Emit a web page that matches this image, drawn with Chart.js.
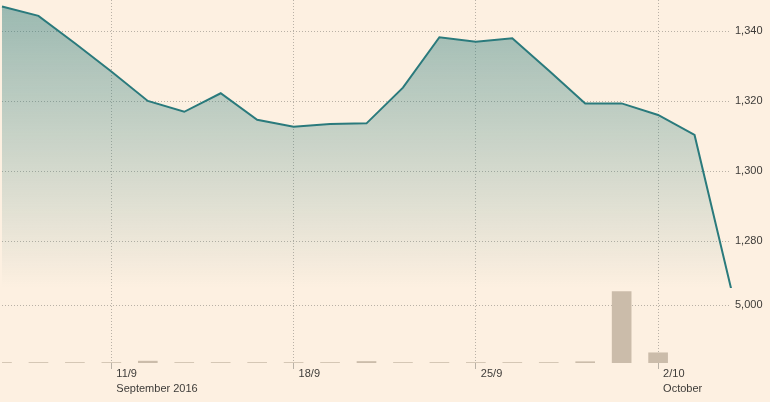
<!DOCTYPE html>
<html>
<head>
<meta charset="utf-8">
<script src="https://cdn.jsdelivr.net/npm/chart.js@4/dist/chart.umd.min.js"></script>
<style>
  html, body { margin: 0; padding: 0; background: #fdf0e1; }
  #wrap { width: 770px; height: 402px; position: relative; }
</style>
</head>
<body>
<div id="wrap"><canvas id="chart" width="770" height="402"></canvas></div>
<script>
  // trading days (Sun-Thu)
  var dates = [
    "6/9", "7/9", "8/9",
    "11/9", "12/9", "13/9", "14/9", "15/9",
    "18/9", "19/9", "20/9", "21/9", "22/9",
    "25/9", "26/9", "27/9", "28/9", "29/9",
    "2/10", "3/10", "4/10"
  ];
  var prices = [
    1347.1, 1344.4, 1336.6,
    1328.5, 1320.1, 1317.0, 1322.3, 1314.7,
    1312.7, 1313.5, 1313.7, 1323.9, 1338.3,
    1337.0, 1338.0, 1328.8, 1319.4, 1319.4,
    1316.1, 1310.4, 1266.6
  ];
  var volumes = [
    40, 40, 40,
    40, 160, 40, 40, 40,
    40, 40, 130, 40, 40,
    40, 40, 40, 110, 6150,
    880, null, null
  ];
  var tickDates = ["11/9", "18/9", "25/9", "2/10"];
  var tickMonths = ["September 2016", "", "", "October"];
  var priceTicks = [1280, 1300, 1320, 1340];
  var volumeTicks = [5000];

  var gridColor = "#b9b1a6";
  var textColor = "#3d3b38";
  var font = { family: "'Liberation Sans', Arial, sans-serif", size: 11, lineHeight: 1.32 };

  function fmt(v) {
    return Number(v).toLocaleString("en-US");
  }

  function noPadding(axis) {
    axis.paddingTop = 0;
    axis.paddingBottom = 0;
    axis.paddingLeft = 0;
    axis.paddingRight = 0;
  }

  function areaGradient(context) {
    var chart = context.chart;
    var y = chart.scales.y;
    if (!chart.chartArea || !y) return "rgba(43,123,123,0.3)";
    var g = chart.ctx.createLinearGradient(0, y.top, 0, y.bottom);
    g.addColorStop(0, "rgba(43,123,123,0.48)");
    g.addColorStop(1, "rgba(43,123,123,0)");
    return g;
  }

  new Chart(document.getElementById("chart"), {
    data: {
      labels: dates,
      datasets: [
        {
          type: "line",
          data: prices,
          yAxisID: "y",
          borderColor: "#2a7a7c",
          borderWidth: 2,
          backgroundColor: areaGradient,
          fill: "start",
          tension: 0,
          pointRadius: 0,
          order: 1,
        },
        {
          type: "bar",
          data: volumes,
          yAxisID: "vol",
          backgroundColor: "#cbbcaa",
          barThickness: 19,
          borderWidth: 0,
          order: 2,
        },
      ],
    },
    options: {
      responsive: false,
      animation: false,
      layout: { padding: { left: 2, top: 0, right: 0, bottom: 0 } },
      plugins: {
        legend: { display: false },
        tooltip: { enabled: false },
      },
      scales: {
        x: {
          type: "category",
          offset: false,
          border: { display: false, dash: [1, 2] },
          grid: {
            offset: false,
            color: gridColor,
            drawTicks: true,
            tickLength: 6,
            tickColor: gridColor,
            tickBorderDash: [],
          },
          ticks: {
            autoSkip: false,
            maxRotation: 0,
            align: "start",
            labelOffset: 5,
            padding: -2,
            color: textColor,
            font: font,
            callback: function (value, index) {
              var d = dates[index];
              var k = tickDates.indexOf(d);
              if (k < 0) return null;
              return tickMonths[k] ? [d, tickMonths[k]] : d;
            },
          },
          afterFit: function (axis) {
            noPadding(axis);
            axis.height = 39;
          },
        },
        y: {
          type: "linear",
          position: "right",
          stack: "panels",
          stackWeight: 288,
          min: 1266.66,
          max: 1348.94,
          border: { display: false, dash: [1, 2] },
          grid: { color: gridColor, drawTicks: false },
          ticks: {
            padding: 4,
            color: textColor,
            font: font,
            callback: fmt,
          },
          afterBuildTicks: function (axis) {
            axis.ticks = priceTicks.map(function (v) { return { value: v }; });
          },
          afterFit: function (axis) {
            noPadding(axis);
            axis.width = 39;
          },
        },
        vol: {
          type: "linear",
          position: "right",
          stack: "panels",
          stackWeight: 75,
          min: 0,
          max: 6466,
          border: { display: false, dash: [1, 2] },
          grid: { color: gridColor, drawTicks: false },
          ticks: {
            padding: 4,
            color: textColor,
            font: font,
            callback: fmt,
          },
          afterBuildTicks: function (axis) {
            axis.ticks = volumeTicks.map(function (v) { return { value: v }; });
          },
          afterFit: function (axis) {
            noPadding(axis);
            axis.width = 39;
          },
        },
      },
    },
  });
</script>
</body>
</html>
